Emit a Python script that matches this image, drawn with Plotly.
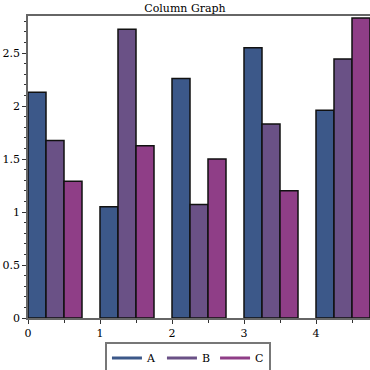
import plotly.graph_objects as go

groups = [0, 1, 2, 3, 4]
series_names = ["A", "B", "C"]
values_A = [2.13, 1.05, 2.26, 2.55, 1.96]
values_B = [1.675, 2.725, 1.07, 1.83, 2.445]
values_C = [1.29, 1.625, 1.50, 1.20, 2.83]
colors = ["#3c5889", "#6a5186", "#8f3e87"]

series = [values_A, values_B, values_C]
bar_w = 0.25

fig = go.Figure()
for k, (name, vals, col) in enumerate(zip(series_names, series, colors)):
    fig.add_trace(go.Bar(
        x=[g + bar_w / 2 + k * bar_w for g in groups],
        y=vals, width=bar_w, name=name,
        marker=dict(color=col, line=dict(color="#111111", width=1.5)),
        showlegend=False,
    ))
for name, col in zip(series_names, colors):
    fig.add_trace(go.Scatter(
        x=[None], y=[None], mode="lines", name=name,
        line=dict(color=col, width=3),
    ))

font = "DejaVu Serif"
fig.update_layout(
    width=370, height=370,
    margin=dict(l=28, r=0, t=16, b=52, autoexpand=False),
    paper_bgcolor="white", plot_bgcolor="white",
    barmode="overlay",
    font=dict(family=font, size=11, color="black"),
    title=dict(text="Column Graph", x=0.5, xref="container", xanchor="center",
               y=1 - 8 / 370, yref="container", yanchor="middle",
               font=dict(family=font, size=11, color="black")),
    legend=dict(orientation="h", xref="container", yref="container",
                x=0.508, xanchor="center", y=12 / 370, yanchor="middle",
                bordercolor="#777777", borderwidth=2, bgcolor="white",
                font=dict(family=font, size=11, color="black"),
                itemwidth=30, tracegroupgap=0),
    xaxis=dict(range=[0, 4.75], tickvals=groups, ticks="outside", ticklen=4,
               automargin=False,
               showgrid=False, zeroline=False, showline=True, linecolor="#666666",
               linewidth=1.5, mirror=True, tickcolor="#333333",
               minor=dict(dtick=0.5, tick0=0, ticks="outside", ticklen=3, tickcolor="#333333")),
    yaxis=dict(range=[0, 2.85], dtick=0.5, ticks="outside", ticklen=4,
               automargin=False,
               showgrid=False, zeroline=False, showline=True, linecolor="#666666",
               linewidth=1.5, mirror=True, tickcolor="#333333",
               minor=dict(dtick=0.1, tick0=0, ticks="outside", ticklen=2, tickcolor="#333333")),
)

post = (
    "document.body.style.margin='0';document.body.style.overflow='hidden';"
    "document.documentElement.style.overflow='hidden';"
    "var gd=document.getElementById('{plot_id}');"
    "Plotly.relayout(gd,{width:370,height:370});"
)
fig.write_html("out.html", config={"responsive": False, "displayModeBar": False},
               post_script=post)
